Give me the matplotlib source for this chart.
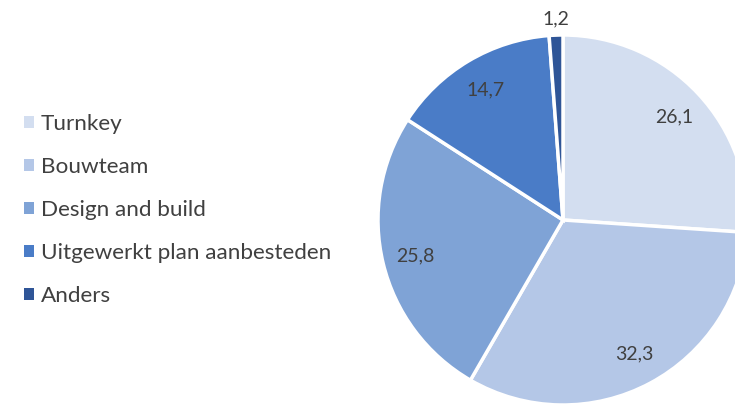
import numpy as np
import matplotlib
matplotlib.use("Agg")
import matplotlib.pyplot as plt
from matplotlib.patches import Patch

categories = ["Turnkey", "Bouwteam", "Design and build", "Uitgewerkt plan aanbesteden", "Anders"]
values = [26.1, 32.3, 25.8, 14.7, 1.2]
colors = ["#D3DEF0", "#B4C7E7", "#7FA3D6", "#4A7CC7", "#2F5597"]

plt.rcParams["font.family"] = ["Lato", "DejaVu Sans"]

fig = plt.figure(figsize=(7.35, 4.05), dpi=100)
ax = fig.add_axes([0, 0, 1, 1])

cx, cy, r = 563, 185, 185
wedges, _ = ax.pie(values, colors=colors, startangle=90, counterclock=False,
                   center=(cx, cy), radius=r,
                   wedgeprops=dict(edgecolor="white", linewidth=2.5))
ax.set_xlim(0, 735)
ax.set_ylim(0, 405)
ax.set_aspect("equal")
ax.axis("off")

for w, v in zip(wedges, values):
    mid = np.deg2rad((w.theta1 + w.theta2) / 2)
    dist = 1.09 if v < 5 else 0.82
    x = cx + dist * r * np.cos(mid)
    y = cy + dist * r * np.sin(mid)
    ax.text(x, y, f"{v:.1f}".replace(".", ","), ha="center", va="center",
            fontsize=14, color="#404040")

handles = [Patch(facecolor=c, edgecolor="none") for c in colors]
ax.legend(handles, categories, loc="upper left", bbox_to_anchor=(0.02, 0.74),
          frameon=False, fontsize=16.2, labelcolor="#404040",
          handlelength=0.45, handleheight=0.45, handletextpad=0.3,
          labelspacing=1.02, borderaxespad=0)

fig.savefig("out.png", dpi=100)
